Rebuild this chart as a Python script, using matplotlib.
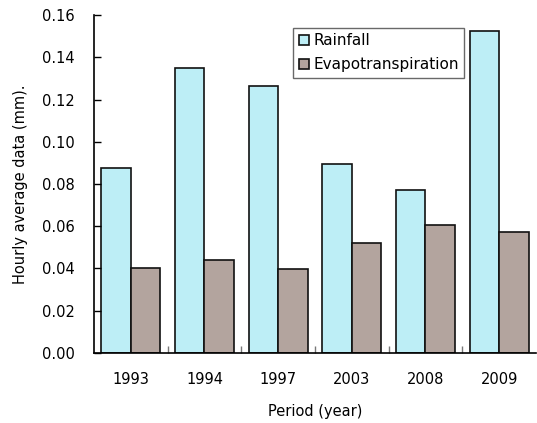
import numpy as np
import matplotlib.pyplot as plt
from matplotlib.ticker import FixedLocator

years = ["1993", "1994", "1997", "2003", "2008", "2009"]
rainfall = [0.0876, 0.1349, 0.1264, 0.0895, 0.0772, 0.1524]
evapo = [0.0402, 0.0440, 0.0398, 0.0521, 0.0606, 0.0573]

plt.rcParams['font.family'] = ['DejaVu Sans']

fig = plt.figure(figsize=(5.37, 4.23), dpi=100)
ax = fig.add_axes([0.175, 0.1655, 0.823, 0.799])

x = np.arange(len(years))
w = 0.4
ax.bar(x - w / 2, rainfall, w, color='#bdeef6', edgecolor='#111111', linewidth=1.2, label='Rainfall')
ax.bar(x + w / 2, evapo, w, color='#b3a49e', edgecolor='#111111', linewidth=1.2, label='Evapotranspiration')

ax.set_xlim(-0.5, len(years) - 0.5)
ax.set_ylim(0, 0.16)
ax.set_yticks(np.arange(0, 0.161, 0.02))
ax.set_yticklabels([f"{v:.2f}" for v in np.arange(0, 0.161, 0.02)], fontsize=10.5)
ax.set_xticks(x)
ax.set_xticklabels(years, fontsize=10.5)
ax.xaxis.set_minor_locator(FixedLocator(np.arange(0.5, len(years) - 0.5, 1)))

ax.tick_params(axis='x', which='major', length=0, pad=14)
ax.tick_params(axis='x', which='minor', direction='in', length=5, width=1, color='#777777')
ax.tick_params(axis='y', direction='in', length=5, width=1, pad=14)

for s in ['top', 'right']:
    ax.spines[s].set_visible(False)
for s in ['left', 'bottom']:
    ax.spines[s].set_linewidth(1.2)

ax.set_xlabel("Period (year)", fontsize=10.5, labelpad=12)
ax.set_ylabel("Hourly average data (mm).", fontsize=10.5, labelpad=10)

leg = ax.legend(loc='upper left', bbox_to_anchor=(0.451, 0.962), fontsize=11, frameon=True,
                fancybox=False, edgecolor='#444444', handlelength=0.7, handleheight=0.7,
                handletextpad=0.25, borderpad=0.35, labelspacing=0.6, borderaxespad=0)
leg.get_frame().set_linewidth(1.0)

fig.savefig("out.png", dpi=100)
